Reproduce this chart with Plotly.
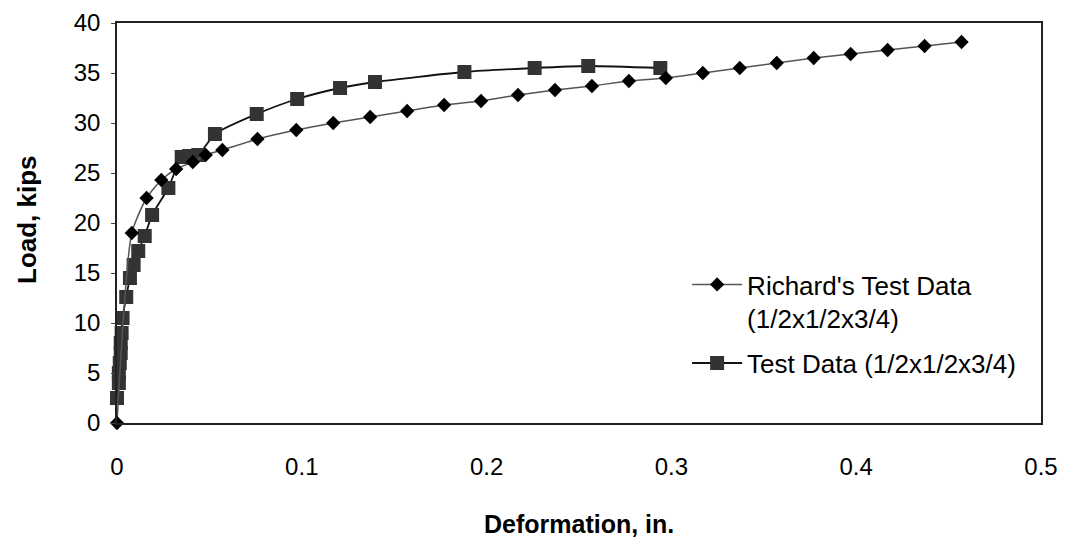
import plotly.graph_objects as go

# Richard's Test Data (1/2x1/2x3/4)
richard_x = [0, 0.008, 0.016, 0.024, 0.032, 0.041, 0.048, 0.057, 0.076, 0.097,
             0.117, 0.137, 0.157, 0.177, 0.197, 0.217, 0.237, 0.257, 0.277, 0.297,
             0.317, 0.337, 0.357, 0.377, 0.397, 0.417, 0.437, 0.457]
richard_y = [0, 19.0, 22.5, 24.3, 25.4, 26.1, 26.8, 27.3, 28.4, 29.3,
             30.0, 30.6, 31.2, 31.8, 32.2, 32.8, 33.3, 33.7, 34.2, 34.5,
             35.0, 35.5, 36.0, 36.5, 36.9, 37.3, 37.7, 38.1]

# Test Data (1/2x1/2x3/4)
test_x = [0.0, 0.001, 0.001, 0.0015, 0.002, 0.002, 0.0025, 0.003, 0.005,
          0.007, 0.009, 0.0115, 0.015, 0.019, 0.0278, 0.035, 0.039, 0.044,
          0.053, 0.0756, 0.0975, 0.1207, 0.1396, 0.188, 0.226, 0.255, 0.294]
test_y = [2.5, 4.0, 5.0, 6.0, 7.0, 8.0, 9.0, 10.5, 12.6,
          14.5, 15.8, 17.2, 18.7, 20.8, 23.5, 26.6, 26.7, 26.8,
          28.9, 30.9, 32.4, 33.5, 34.1, 35.1, 35.5, 35.7, 35.5]

x_ticks = [0, 0.1, 0.2, 0.3, 0.4, 0.5]
x_tick_text = ["0", "0.1", "0.2", "0.3", "0.4", "0.5"]
y_ticks = [0, 5, 10, 15, 20, 25, 30, 35, 40]

FONT = "Liberation Sans, Arial, sans-serif"

fig = go.Figure()
fig.add_trace(go.Scatter(
    x=test_x, y=test_y, mode="lines+markers",
    name="Test Data (1/2x1/2x3/4)", legendgroup="b", legendrank=2,
    line=dict(color="#111111", width=1.8, shape="spline", smoothing=0.6),
    marker=dict(symbol="square", size=14, color="#333333"),
    cliponaxis=False,
))
fig.add_trace(go.Scatter(
    x=richard_x, y=richard_y, mode="lines+markers",
    name="Richard's Test Data<br>(1/2x1/2x3/4)", legendgroup="a", legendrank=1,
    line=dict(color="#555555", width=1.5, shape="spline", smoothing=0.6),
    marker=dict(symbol="diamond", size=11, color="#000000"),
    cliponaxis=False,
))

fig.update_layout(
    width=1058, height=536,
    paper_bgcolor="white", plot_bgcolor="white",
    margin=dict(l=109, r=25, t=15, b=121),
    font=dict(family=FONT, size=24, color="black"),
    showlegend=True,
    legend=dict(
        x=0.617, y=0.405, xanchor="left", yanchor="top",
        bgcolor="rgba(255,255,255,0)", borderwidth=0,
        font=dict(family=FONT, size=26, color="black"),
        valign="top", itemwidth=50, tracegroupgap=8, traceorder="grouped",
    ),
    xaxis=dict(
        range=[0, 0.5], tickvals=x_ticks, ticktext=x_tick_text,
        showgrid=False, zeroline=False, ticks="", automargin=False,
        showline=True, linecolor="#222222", linewidth=1.5, mirror=True,
        tickfont=dict(family=FONT, size=24), ticklabelstandoff=21,
    ),
    yaxis=dict(
        range=[0, 40], tickvals=y_ticks, automargin=False,
        showgrid=False, zeroline=False, ticks="outside", ticklen=4, tickcolor="#444444",
        showline=True, linecolor="#222222", linewidth=1.5, mirror=True,
        tickfont=dict(family=FONT, size=24), ticklabelstandoff=6,
    ),
    annotations=[
        dict(text="<b>Deformation, in.</b>", xref="paper", yref="paper",
             x=0.5, y=(423 - 524) / 400, xanchor="center", yanchor="middle",
             showarrow=False, font=dict(family=FONT, size=25)),
        dict(text="<b>Load, kips</b>", xref="paper", yref="paper",
             x=(27 - 117) / 924, y=(423 - 220) / 400, xanchor="center", yanchor="middle",
             textangle=-90, showarrow=False, font=dict(family=FONT, size=26)),
    ],
)

fig.write_html("out.html")
